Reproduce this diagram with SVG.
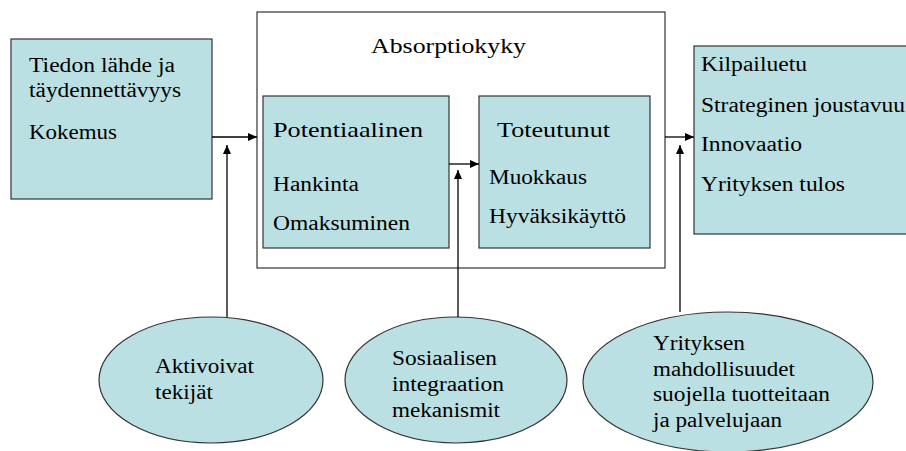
<svg xmlns="http://www.w3.org/2000/svg" width="906" height="451" viewBox="0 0 906 451">
<style>
.box{fill:#BBE0E3;stroke:#333;stroke-width:1.2}
.outer{fill:#fff;stroke:#333;stroke-width:1.2}
.c{stroke:#000;stroke-width:1.3;fill:none}
</style>
<defs>
<marker id="arr" markerWidth="10" markerHeight="8" refX="9" refY="4" orient="auto" markerUnits="userSpaceOnUse">
<path d="M0,0 L9,4 L0,8 Z" fill="#000"/>
</marker>
</defs>
<g font-family="Liberation Serif, Tinos, Times New Roman, serif" font-size="20" fill="#000">
<g id="absorptiokyky">
<rect class="outer" x="257" y="12" width="408" height="256"/>
<text font-size="22" x="371" y="53" textLength="155" lengthAdjust="spacingAndGlyphs">Absorptiokyky</text>
</g>
<g id="tiedon-lahde">
<rect class="box" x="11" y="39" width="201" height="160"/>
<text x="29" y="72" textLength="146" lengthAdjust="spacingAndGlyphs">Tiedon lähde ja</text>
<text x="29" y="97" textLength="152" lengthAdjust="spacingAndGlyphs">täydennettävyys</text>
<text x="29" y="139" textLength="88" lengthAdjust="spacingAndGlyphs">Kokemus</text>
</g>
<g id="potentiaalinen">
<rect class="box" x="263" y="96" width="186" height="152"/>
<text font-size="22" x="273" y="137" textLength="150" lengthAdjust="spacingAndGlyphs">Potentiaalinen</text>
<text x="273" y="191" textLength="86" lengthAdjust="spacingAndGlyphs">Hankinta</text>
<text x="273" y="230" textLength="137" lengthAdjust="spacingAndGlyphs">Omaksuminen</text>
</g>
<g id="toteutunut">
<rect class="box" x="479" y="96" width="171" height="152"/>
<text font-size="22" x="497" y="137" textLength="113" lengthAdjust="spacingAndGlyphs">Toteutunut</text>
<text x="489" y="184" textLength="98" lengthAdjust="spacingAndGlyphs">Muokkaus</text>
<text x="489" y="223" textLength="137" lengthAdjust="spacingAndGlyphs">Hyväksikäyttö</text>
</g>
<g id="tulokset">
<rect class="box" x="694" y="46" width="230" height="188"/>
<text x="701" y="71" textLength="106" lengthAdjust="spacingAndGlyphs">Kilpailuetu</text>
<text x="701" y="112" textLength="204" lengthAdjust="spacingAndGlyphs">Strateginen joustavuu</text>
<text x="701" y="151" textLength="101" lengthAdjust="spacingAndGlyphs">Innovaatio</text>
<text x="701" y="191" textLength="144" lengthAdjust="spacingAndGlyphs">Yrityksen tulos</text>
</g>
<g id="aktivoivat">
<ellipse class="box" cx="211" cy="380" rx="112" ry="63"/>
<text x="155" y="373" textLength="99" lengthAdjust="spacingAndGlyphs">Aktivoivat</text>
<text x="155" y="399" textLength="58" lengthAdjust="spacingAndGlyphs">tekijät</text>
</g>
<g id="sosiaalisen">
<ellipse class="box" cx="456" cy="380" rx="111" ry="63"/>
<text x="392" y="365" textLength="105" lengthAdjust="spacingAndGlyphs">Sosiaalisen</text>
<text x="392" y="391" textLength="112" lengthAdjust="spacingAndGlyphs">integraation</text>
<text x="392" y="417" textLength="108" lengthAdjust="spacingAndGlyphs">mekanismit</text>
</g>
<g id="suojaus">
<ellipse class="box" cx="728" cy="382" rx="145" ry="70"/>
<text x="653" y="350" textLength="92" lengthAdjust="spacingAndGlyphs">Yrityksen</text>
<text x="653" y="376" textLength="142" lengthAdjust="spacingAndGlyphs">mahdollisuudet</text>
<text x="653" y="401" textLength="177" lengthAdjust="spacingAndGlyphs">suojella tuotteitaan</text>
<text x="653" y="427" textLength="129" lengthAdjust="spacingAndGlyphs">ja palvelujaan</text>
</g>
</g>
<g id="connectors">
<line class="c" x1="212" y1="137" x2="257" y2="137" marker-end="url(#arr)"/>
<line class="c" x1="227" y1="317" x2="227" y2="145" marker-end="url(#arr)"/>
<line class="c" x1="449" y1="164" x2="479" y2="164" marker-end="url(#arr)"/>
<line class="c" x1="458" y1="317" x2="458" y2="170" marker-end="url(#arr)"/>
<line class="c" x1="665" y1="137" x2="694" y2="137" marker-end="url(#arr)"/>
<line class="c" x1="680" y1="312" x2="680" y2="145" marker-end="url(#arr)"/>
</g>
</svg>
